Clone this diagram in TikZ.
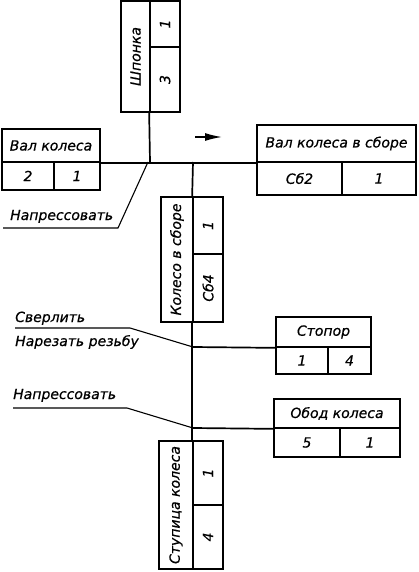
\documentclass[tikz,border=0pt]{standalone}
\usepackage{fontspec}
\setmainfont{DejaVu Sans}[ItalicFeatures={FakeBold=0.6}]
\usetikzlibrary{arrows.meta}
\begin{document}
\begin{tikzpicture}[x=1pt,y=-1pt,
  every node/.style={font=\fontsize{14}{16}\selectfont\itshape, inner sep=0pt},
  cell/.style={draw, line width=1.7pt, rectangle},
  lbl/.style={anchor=base west},
  conn/.style={line width=1.7pt},
  lead/.style={line width=1.1pt}]
\useasboundingbox (0,0) rectangle (418,572);
% Shponka
\node[cell, minimum width=111pt, minimum height=29pt, rotate=90] (shn) at (135.5,56.5) {Шпонка};
\node[cell, minimum width=30pt, minimum height=46pt] (sh1) at (165,24) {\rotatebox{90}{1}};
\node[cell, minimum width=30pt, minimum height=65pt] (sh3) at (165,79.5) {\rotatebox{90}{3}};
% Val kolesa
\node[cell, minimum width=98pt, minimum height=33pt] (valn) at (51,145.5) {Вал колеса};
\node[cell, minimum width=52pt, minimum height=28pt] (val2) at (28,176) {2};
\node[cell, minimum width=46pt, minimum height=28pt] (val1) at (77,176) {1};
% Val kolesa v sbore
\node[cell, minimum width=159pt, minimum height=37pt] (vksn) at (336.5,143.5) {Вал колеса в сборе};
\node[cell, minimum width=85pt, minimum height=33pt] (vks2) at (299.5,178.5) {Сб2};
\node[cell, minimum width=74pt, minimum height=33pt] (vks1) at (379,178.5) {1};
% Koleso v sbore
\node[cell, minimum width=125pt, minimum height=32pt, rotate=90] (kn) at (177,259.5) {Колесо в сборе};
\node[cell, minimum width=30pt, minimum height=57pt] (k1) at (208,225.5) {\rotatebox{90}{1}};
\node[cell, minimum width=30pt, minimum height=68pt] (k4) at (208,288) {\rotatebox{90}{Сб4}};
% Stopor
\node[cell, minimum width=95pt, minimum height=30pt] (stn) at (323.5,332) {Стопор};
\node[cell, minimum width=52pt, minimum height=27pt] (st1) at (302,360.5) {1};
\node[cell, minimum width=43pt, minimum height=27pt] (st4) at (349.5,360.5) {4};
% Obod kolesa
\node[cell, minimum width=126pt, minimum height=29pt] (obn) at (337,413.5) {Обод колеса};
\node[cell, minimum width=66pt, minimum height=29pt] (ob5) at (307,442.5) {5};
\node[cell, minimum width=60pt, minimum height=29pt] (ob1) at (370,442.5) {1};
% Stupica kolesa
\node[cell, minimum width=128pt, minimum height=34pt, rotate=90] (sun) at (176,505) {Ступица колеса};
\node[cell, minimum width=30pt, minimum height=64pt] (su1) at (208,473) {\rotatebox{90}{1}};
\node[cell, minimum width=30pt, minimum height=64pt] (su4) at (208,537) {\rotatebox{90}{4}};
% junctions
\coordinate (j1) at (150,162);
\coordinate (j2) at (193,162);
\coordinate (j3) at (193,347);
\coordinate (j4) at (193,428);
% connectors
\draw[conn] (valn.south east) -- (vksn.south west);
\draw[conn] (sh3.south west) -- (j1);
\draw[conn] (j2) -- (k1.north west);
\draw[conn] (k4.south west) -- (su1.north west);
\draw[conn] (j3) -- (stn.south west);
\draw[conn] (j4) -- (obn.south west);
% arrow
\draw[line width=1.5pt, -{Latex[length=17pt,width=8pt]}] (195,137) -- (222,137);
% labels
\node[lbl] (nap1) at (10,220) {Напрессовать};
\coordinate (u1a) at (3,228); \coordinate (u1b) at (118,228);
\draw[lead] (u1a) -- (u1b) -- (148,162);
\node[lbl] (sverl) at (15,322) {Сверлить};
\node[lbl] (narez) at (15,346) {Нарезать резьбу};
\coordinate (u2a) at (15,328); \coordinate (u2b) at (130,328);
\draw[lead] (u2a) -- (u2b) -- (j3);
\node[lbl] (nap2) at (13,399) {Напрессовать};
\coordinate (u3a) at (13,408); \coordinate (u3b) at (127,408);
\draw[lead] (u3a) -- (u3b) -- (j4);
\end{tikzpicture}
\end{document}
